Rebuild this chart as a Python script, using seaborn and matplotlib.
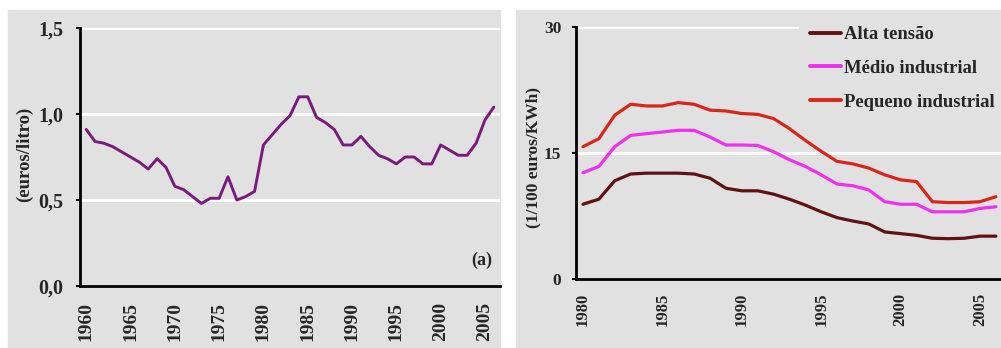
import matplotlib
matplotlib.use("Agg")
import matplotlib.pyplot as plt
import numpy as np
import pandas as pd
import seaborn as sns
from matplotlib.patches import Rectangle

# ---------------- data ----------------
years_a = list(range(1960, 2007))
price_a = [0.91, 0.84, 0.83, 0.81, 0.78, 0.75, 0.72, 0.68, 0.74, 0.69,
           0.58, 0.56, 0.52, 0.48, 0.51, 0.51, 0.635, 0.50, 0.52, 0.55,
           0.82, 0.88, 0.94, 0.99, 1.10, 1.10, 0.98, 0.95, 0.91, 0.82,
           0.82, 0.87, 0.81, 0.76, 0.74, 0.71, 0.75, 0.75, 0.71, 0.71,
           0.82, 0.79, 0.76, 0.76, 0.83, 0.965, 1.04]

years_b = list(range(1980, 2007))
alta = [8.9, 9.5, 11.7, 12.5, 12.6, 12.6, 12.6, 12.5, 12.0, 10.8,
        10.5, 10.5, 10.1, 9.5, 8.8, 8.0, 7.3, 6.9, 6.55, 5.6,
        5.4, 5.2, 4.85, 4.8, 4.85, 5.1, 5.1]
medio = [12.65, 13.4, 15.75, 17.1, 17.3, 17.5, 17.7, 17.7, 16.9, 15.95,
         15.95, 15.9, 15.15, 14.2, 13.4, 12.4, 11.3, 11.1, 10.6, 9.2,
         8.9, 8.9, 8.0, 8.0, 8.0, 8.4, 8.6]
pequeno = [15.75, 16.7, 19.5, 20.8, 20.6, 20.6, 21.0, 20.8, 20.1, 20.0,
           19.7, 19.6, 19.1, 17.9, 16.5, 15.2, 14.0, 13.7, 13.2, 12.4,
           11.8, 11.6, 9.2, 9.1, 9.1, 9.2, 9.8]
series_names = ["Alta tensão", "Médio industrial", "Pequeno industrial"]
series_colors = ["#601212", "#F030F0", "#D8261C"]

yticks_a = [0.0, 0.5, 1.0, 1.5]
yticklabels_a = ["0,0", "0,5", "1,0", "1,5"]
xticks_a = list(range(1960, 2006, 5))
yticks_b = [0, 15, 30]
xticks_b = list(range(1980, 2006, 5))
ylabel_a = "(euros/litro)"
ylabel_b = "(1/100 euros/KWh)"
panel_tag = "(a)"

# ---------------- style ----------------
sns.set_style("white")
plt.rcParams["font.family"] = ["Liberation Serif", "DejaVu Serif"]
plt.rcParams["font.weight"] = "bold"

W, H = 1001, 348
fig = plt.figure(figsize=(W / 100, H / 100), dpi=100)
grey = "#E1E1E1"
fig.patches.append(Rectangle((8 / W, 0), (500 - 8) / W, (H - 10) / H,
                             transform=fig.transFigure, color=grey, zorder=-10))
fig.patches.append(Rectangle((516 / W, 0), (W - 516) / W, (H - 10) / H,
                             transform=fig.transFigure, color=grey, zorder=-10))


def box(l, t, r, b):
    return [l / W, 1 - b / H, (r - l) / W, (b - t) / H]


ax1 = fig.add_axes(box(80, 28, 500, 286))
ax2 = fig.add_axes(box(576, 27, 1001, 279))

# left panel
sns.lineplot(x=years_a, y=price_a, ax=ax1, color="#7A1A7A", lw=2.1)
ax1.set_xlim(1959.3, 2006.7)
ax1.set_ylim(0, 1.5)
ax1.set_yticks(yticks_a)
ax1.set_yticklabels(yticklabels_a)
ax1.set_xticks(xticks_a)
ax1.set_xticklabels([str(v) for v in xticks_a])
ax1.text(0.957, 0.10, panel_tag, transform=ax1.transAxes, ha="center",
         va="center", fontsize=13, fontweight="bold")
ax1.set_ylabel(ylabel_a, fontsize=13.5, fontweight="bold")
ax1.yaxis.set_label_coords(-0.112, 0.51)

# right panel
df = pd.DataFrame({
    "ano": years_b * 3,
    "valor": alta + medio + pequeno,
    "serie": [series_names[0]] * len(years_b) + [series_names[1]] * len(years_b)
             + [series_names[2]] * len(years_b),
})
sns.lineplot(data=df, x="ano", y="valor", hue="serie", hue_order=series_names,
             palette=series_colors, ax=ax2, lw=2.3)
ax2.set_xlim(1979.56, 2006.32)
ax2.set_ylim(0, 30)
ax2.set_yticks(yticks_b)
ax2.set_yticklabels([str(v) for v in yticks_b])
ax2.set_xticks(xticks_b)
ax2.set_xticklabels([str(v) for v in xticks_b])
ax2.set_xlabel("")
ax2.set_ylabel(ylabel_b, fontsize=12.5, fontweight="bold")
ax2.yaxis.set_label_coords(-0.082, 0.482)
leg = ax2.legend(loc="upper left", bbox_to_anchor=(0.525, 1.048), fontsize=13.4,
                 frameon=True, facecolor=grey, edgecolor="none", framealpha=1,
                 handlelength=1.65, handletextpad=0.15, labelspacing=0.9,
                 borderaxespad=0, borderpad=0.6)
for t in leg.get_texts():
    t.set_fontweight("bold")
for ln in leg.get_lines():
    ln.set_linewidth(2.8)

for ax, fs_y, fs_x, padx, pady in [(ax1, 14.5, 14, 11.5, 9), (ax2, 12.5, 12, 10, 7.5)]:
    ax.set_facecolor(grey)
    ax.set_xlabel("")
    ax.yaxis.grid(True, color="white", lw=2)
    ax.xaxis.grid(False)
    ax.set_axisbelow(True)
    for s in ["top", "right"]:
        ax.spines[s].set_visible(False)
    for s in ["left", "bottom"]:
        ax.spines[s].set_color("black")
        ax.spines[s].set_linewidth(2)
    ax.tick_params(axis="y", length=3, width=1.5, color="black", pad=pady,
                   labelsize=fs_y, left=True)
    ax.tick_params(axis="x", length=0, pad=padx, labelsize=fs_x, rotation=90)
    for lab in ax.get_xticklabels() + ax.get_yticklabels():
        lab.set_fontweight("bold")

fig.savefig("out.png", dpi=100, facecolor="white")
